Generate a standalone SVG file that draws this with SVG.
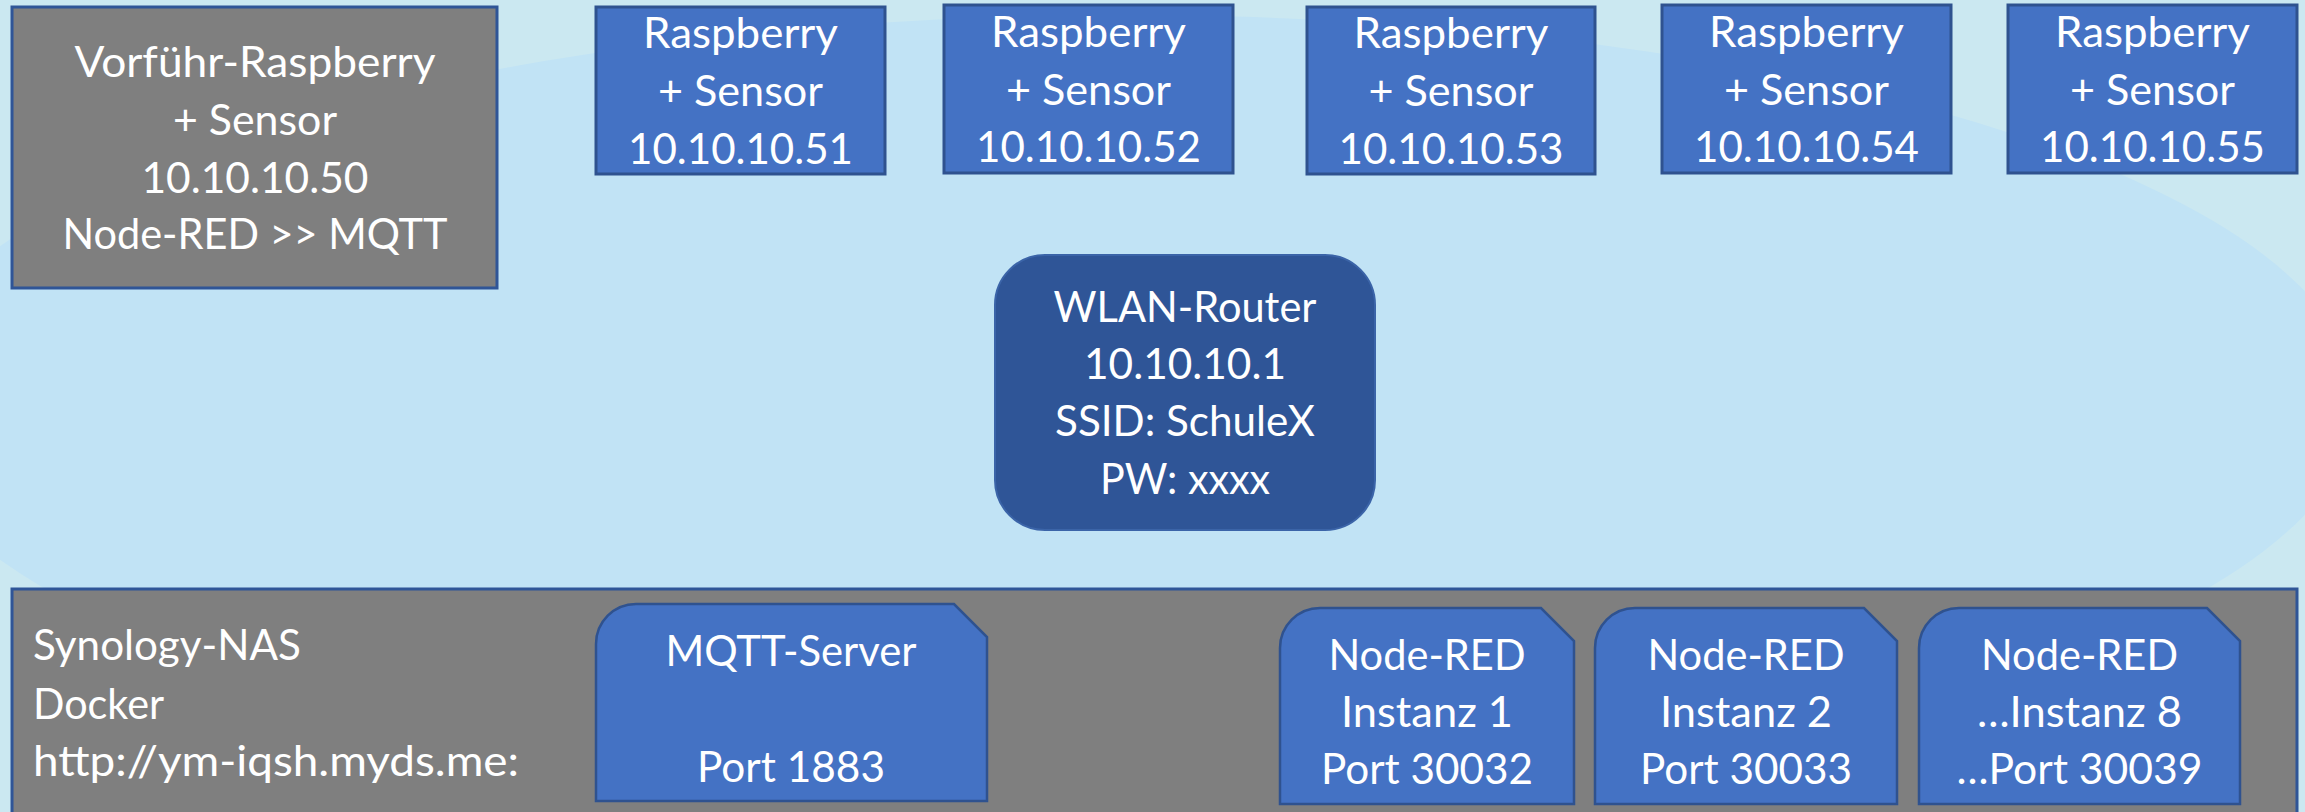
<svg xmlns="http://www.w3.org/2000/svg" width="2305" height="812" viewBox="0 0 2305 812">
<style>
.t{font-family:Lato,"Open Sans","Liberation Sans",sans-serif;font-size:42px;fill:#FFFFFF;text-anchor:middle}
.l{text-anchor:start}
.gray{fill:#7F7F7F;stroke:#2F5597;stroke-width:3}
.pi{fill:#4472C4;stroke:#2F528F;stroke-width:3}
.router{fill:#2F5597;stroke:#3B64A8;stroke-width:2}
.snip{fill:#4472C4;stroke:#2F528F;stroke-width:2.5}
</style>
<rect x="0" y="0" width="2305" height="812" fill="#CBE8F1"/>
<ellipse cx="1126" cy="403" rx="1231" ry="388" fill="#C1E3F5"/>
<g id="connectors"/>
<g id="demo-pi">
<rect class="gray" x="12" y="7" width="485" height="281"/>
<text class="t" x="255" y="77" textLength="361" lengthAdjust="spacingAndGlyphs">Vorführ-Raspberry</text>
<text class="t" x="255" y="135" textLength="164" lengthAdjust="spacingAndGlyphs">+ Sensor</text>
<text class="t" x="255" y="193" textLength="227" lengthAdjust="spacingAndGlyphs">10.10.10.50</text>
<text class="t" x="255" y="249" textLength="385" lengthAdjust="spacingAndGlyphs">Node-RED &gt;&gt; MQTT</text>
</g>
<g id="pi51">
<rect class="pi" x="596" y="7" width="289" height="167"/>
<text class="t" x="740.5" y="48" textLength="195" lengthAdjust="spacingAndGlyphs">Raspberry</text>
<text class="t" x="740.5" y="106" textLength="165" lengthAdjust="spacingAndGlyphs">+ Sensor</text>
<text class="t" x="740.5" y="164" textLength="225" lengthAdjust="spacingAndGlyphs">10.10.10.51</text>
</g>
<g id="pi52">
<rect class="pi" x="944" y="5" width="289" height="168"/>
<text class="t" x="1088.5" y="47" textLength="195" lengthAdjust="spacingAndGlyphs">Raspberry</text>
<text class="t" x="1088.5" y="105" textLength="165" lengthAdjust="spacingAndGlyphs">+ Sensor</text>
<text class="t" x="1088.5" y="162" textLength="225" lengthAdjust="spacingAndGlyphs">10.10.10.52</text>
</g>
<g id="pi53">
<rect class="pi" x="1307" y="7" width="288" height="167"/>
<text class="t" x="1451" y="48" textLength="195" lengthAdjust="spacingAndGlyphs">Raspberry</text>
<text class="t" x="1451" y="106" textLength="165" lengthAdjust="spacingAndGlyphs">+ Sensor</text>
<text class="t" x="1451" y="164" textLength="225" lengthAdjust="spacingAndGlyphs">10.10.10.53</text>
</g>
<g id="pi54">
<rect class="pi" x="1662" y="5" width="289" height="168"/>
<text class="t" x="1806.5" y="47" textLength="195" lengthAdjust="spacingAndGlyphs">Raspberry</text>
<text class="t" x="1806.5" y="105" textLength="165" lengthAdjust="spacingAndGlyphs">+ Sensor</text>
<text class="t" x="1806.5" y="162" textLength="225" lengthAdjust="spacingAndGlyphs">10.10.10.54</text>
</g>
<g id="pi55">
<rect class="pi" x="2008" y="5" width="289" height="168"/>
<text class="t" x="2152.5" y="47" textLength="195" lengthAdjust="spacingAndGlyphs">Raspberry</text>
<text class="t" x="2152.5" y="105" textLength="165" lengthAdjust="spacingAndGlyphs">+ Sensor</text>
<text class="t" x="2152.5" y="162" textLength="225" lengthAdjust="spacingAndGlyphs">10.10.10.55</text>
</g>
<g id="router">
<rect class="router" x="995" y="255" width="380" height="275" rx="50" ry="50"/>
<text class="t" x="1185" y="322" textLength="263" lengthAdjust="spacingAndGlyphs">WLAN-Router</text>
<text class="t" x="1185" y="379" textLength="202" lengthAdjust="spacingAndGlyphs">10.10.10.1</text>
<text class="t" x="1185" y="436" textLength="260" lengthAdjust="spacingAndGlyphs">SSID: SchuleX</text>
<text class="t" x="1185" y="494" textLength="170" lengthAdjust="spacingAndGlyphs">PW: xxxx</text>
</g>
<g id="nas">
<rect class="gray" x="12" y="589" width="2285" height="240"/>
<text class="t l" x="33" y="660" textLength="268" lengthAdjust="spacingAndGlyphs">Synology-NAS</text>
<text class="t l" x="33" y="719" textLength="131" lengthAdjust="spacingAndGlyphs">Docker</text>
<text class="t l" x="33" y="776" textLength="486" lengthAdjust="spacingAndGlyphs">http://ym-iqsh.myds.me:</text>
</g>
<g id="mqtt">
<path class="snip" d="M596,644 A40,40 0 0 1 636,604 L954,604 L987,637 L987,801 L596,801 Z"/>
<text class="t" x="791" y="666" textLength="251" lengthAdjust="spacingAndGlyphs">MQTT-Server</text>
<text class="t" x="791" y="782" textLength="188" lengthAdjust="spacingAndGlyphs">Port 1883</text>
</g>
<g id="nodered1">
<path class="snip" d="M1280,648 A40,40 0 0 1 1320,608 L1541,608 L1574,641 L1574,804 L1280,804 Z"/>
<text class="t" x="1427" y="670" textLength="197" lengthAdjust="spacingAndGlyphs">Node-RED</text>
<text class="t" x="1427" y="727" textLength="172" lengthAdjust="spacingAndGlyphs">Instanz 1</text>
<text class="t" x="1427" y="784" textLength="212" lengthAdjust="spacingAndGlyphs">Port 30032</text>
</g>
<g id="nodered2">
<path class="snip" d="M1595,648 A40,40 0 0 1 1635,608 L1864,608 L1897,641 L1897,804 L1595,804 Z"/>
<text class="t" x="1746" y="670" textLength="197" lengthAdjust="spacingAndGlyphs">Node-RED</text>
<text class="t" x="1746" y="727" textLength="172" lengthAdjust="spacingAndGlyphs">Instanz 2</text>
<text class="t" x="1746" y="784" textLength="212" lengthAdjust="spacingAndGlyphs">Port 30033</text>
</g>
<g id="nodered8">
<path class="snip" d="M1919,648 A40,40 0 0 1 1959,608 L2207,608 L2240,641 L2240,804 L1919,804 Z"/>
<text class="t" x="2079.5" y="670" textLength="197" lengthAdjust="spacingAndGlyphs">Node-RED</text>
<text class="t" x="2079.5" y="727" textLength="205" lengthAdjust="spacingAndGlyphs">…Instanz 8</text>
<text class="t" x="2079.5" y="784" textLength="246" lengthAdjust="spacingAndGlyphs">…Port 30039</text>
</g>
</svg>
